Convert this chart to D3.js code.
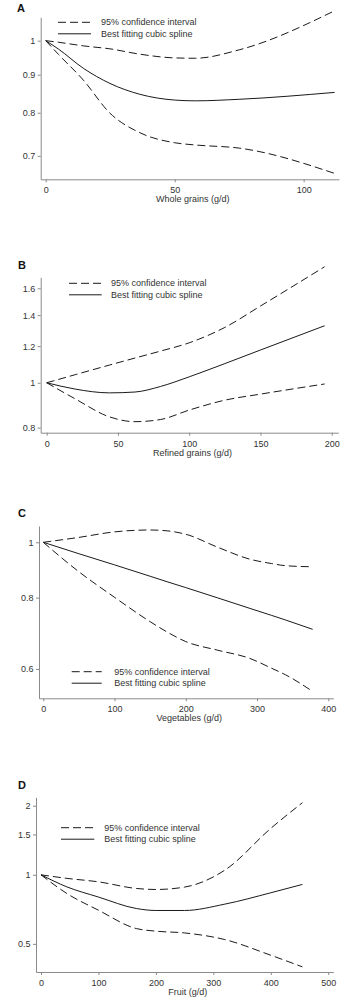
<!DOCTYPE html>
<html>
<head>
<meta charset="utf-8">
<script src="https://cdn.jsdelivr.net/npm/d3@7"></script>
<style>
  html, body { margin: 0; padding: 0; background: #fff; }
  svg { display: block; }
  text { font-family: "Liberation Sans", Arial, sans-serif; }
</style>
</head>
<body>
<svg id="chart" width="352" height="1000"></svg>
<script>
// ---------- DATA ----------
const legendLabels = ["95% confidence interval", "Best fitting cubic spline"];

// Panel A: Whole grains
const aLetter = "A";
const aTitle = "Whole grains (g/d)";
const aX      = [0, 5, 14.6, 24.9, 36.5, 50, 58, 75, 112];
const aSpline = [1, 0.974, 0.918, 0.876, 0.847, 0.832, 0.830, 0.834, 0.852];
const aUpper  = [1, 0.995, 0.984, 0.975, 0.959, 0.948, 0.947, 0.972, 1.097];
const aLower  = [1, 0.958, 0.885, 0.799, 0.752, 0.729, 0.724, 0.717, 0.663];
const aXTicks = [0, 50, 100];
const aYTicks = [0.7, 0.8, 0.9, 1];

// Panel B: Refined grains
const bLetter = "B";
const bTitle = "Refined grains (g/d)";
const bX      = [0, 20, 44, 62, 80, 100, 125, 150, 195];
const bSpline = [1, 0.969, 0.951, 0.955, 0.982, 1.03, 1.10, 1.177, 1.328];
const bUpper  = [1, 1.041, 1.092, 1.131, 1.171, 1.22, 1.317, 1.465, 1.781];
const bLower  = [1, 0.923, 0.844, 0.824, 0.833, 0.873, 0.917, 0.945, 0.994];
const bXTicks = [0, 50, 100, 150, 200];
const bYTicks = [0.8, 1, 1.2, 1.4, 1.6];

// Panel C: Vegetables
const cLetter = "C";
const cTitle = "Vegetables (g/d)";
const cX      = [0, 50, 100, 150, 175, 200, 245, 290, 320, 340, 378];
const cSpline = [1, 0.955, 0.913, 0.872, 0.852, 0.833, 0.799, 0.766, 0.745, 0.731, 0.704];
const cUpper  = [1, 1.02, 1.043, 1.051, 1.047, 1.033, 0.98, 0.934, 0.918, 0.91, 0.906];
const cLower  = [1, 0.888, 0.801, 0.726, 0.695, 0.67, 0.647, 0.626, 0.602, 0.586, 0.548];
const cXTicks = [0, 100, 200, 300, 400];
const cYTicks = [0.6, 0.8, 1];

// Panel D: Fruit
const dLetter = "D";
const dTitle = "Fruit (g/d)";
const dX      = [0, 45, 100, 166, 200, 250, 320, 400, 455];
const dSpline = [1, 0.886, 0.80, 0.713, 0.699, 0.699, 0.745, 0.835, 0.908];
const dUpper  = [1, 0.965, 0.932, 0.872, 0.863, 0.884, 1.048, 1.594, 2.062];
const dLower  = [1, 0.829, 0.701, 0.583, 0.568, 0.558, 0.522, 0.446, 0.397];
const dXTicks = [0, 100, 200, 300, 400, 500];
const dYTicks = [0.5, 1, 1.5, 2];

// ---------- LAYOUT (pixel geometry, not data) ----------
const panels = [
  { letter: aLetter, title: aTitle, x: aX, spline: aSpline, upper: aUpper, lower: aLower,
    xTicks: aXTicks, yTicks: aYTicks,
    xDom: [-1.94, 113.7], yDom: [0.651, 1.075],
    left: 40.7, right: 339, top: 17.3, bottom: 179.3,
    letterPos: [17, 12.3], legend: { x0: 58, x1: 91, tx: 101, y: 22.3 } },
  { letter: bLetter, title: bTitle, x: bX, spline: bSpline, upper: bUpper, lower: bLower,
    xTicks: bXTicks, yTicks: bYTicks,
    xDom: [-4.2, 204.6], yDom: [0.78, 1.69],
    left: 40.7, right: 338.3, top: 277.3, bottom: 432.7,
    letterPos: [18, 269.3], legend: { x0: 69, x1: 101.7, tx: 111, y: 283.3 } },
  { letter: cLetter, title: cTitle, x: cX, spline: cSpline, upper: cUpper, lower: cLower,
    xTicks: cXTicks, yTicks: cYTicks,
    xDom: [-6, 407], yDom: [0.533, 1.068],
    left: 39, right: 333.3, top: 526, bottom: 698.3,
    letterPos: [18, 516.7], legend: { x0: 71.7, x1: 101.7, tx: 114.3, y: 671.7 } },
  { letter: dLetter, title: dTitle, x: dX, spline: dSpline, upper: dUpper, lower: dLower,
    xTicks: dXTicks, yTicks: dYTicks,
    xDom: [-8.7, 508.8], yDom: [0.377, 2.177],
    left: 36, right: 333.3, top: 797.3, bottom: 972,
    letterPos: [18, 789], legend: { x0: 61, x1: 94.3, tx: 104.3, y: 827.7 } }
];

const svg = d3.select("#chart");
const axisColor = "#8a8a8a";
const textColor = "#333";
const lineColor = "#1a1a1a";
const dash = "8,4";

panels.forEach(p => {
  const g = svg.append("g");
  const xs = d3.scaleLinear().domain(p.xDom).range([p.left, p.right]);
  const ys = d3.scaleLog().domain(p.yDom).range([p.bottom, p.top]);

  const xAxis = g.append("g")
    .attr("transform", `translate(0,${p.bottom})`)
    .call(d3.axisBottom(xs).tickValues(p.xTicks).tickSize(3).tickSizeOuter(0).tickPadding(4.5)
      .tickFormat(d3.format("d")));
  const yAxis = g.append("g")
    .attr("transform", `translate(${p.left},0)`)
    .call(d3.axisLeft(ys).tickValues(p.yTicks).tickSize(3).tickSizeOuter(0).tickPadding(2.5)
      .tickFormat(d => String(d)));

  [xAxis, yAxis].forEach(ax => {
    ax.select(".domain").attr("stroke", axisColor).attr("stroke-width", 1);
    ax.selectAll(".tick line").attr("stroke", axisColor);
    ax.selectAll(".tick text").attr("fill", textColor)
      .attr("font-size", 9).attr("font-family", '"Liberation Sans", Arial, sans-serif');
  });

  g.append("text")
    .attr("x", (p.left + p.right) / 2 + 3)
    .attr("y", p.bottom + 23)
    .attr("text-anchor", "middle")
    .attr("font-size", 9)
    .attr("fill", textColor)
    .text(p.title);

  g.append("text")
    .attr("x", p.letterPos[0])
    .attr("y", p.letterPos[1])
    .attr("font-size", 11)
    .attr("font-weight", "bold")
    .attr("fill", "#111")
    .text(p.letter);

  const line = d3.line()
    .x(d => xs(d[0]))
    .y(d => ys(d[1]))
    .curve(d3.curveMonotoneX);

  const series = [
    { vals: p.upper, dashed: true },
    { vals: p.lower, dashed: true },
    { vals: p.spline, dashed: false }
  ];
  series.forEach(s => {
    g.append("path")
      .datum(p.x.map((xv, i) => [xv, s.vals[i]]))
      .attr("d", line)
      .attr("fill", "none")
      .attr("stroke", lineColor)
      .attr("stroke-width", 1)
      .attr("stroke-dasharray", s.dashed ? dash : null);
  });

  const L = p.legend;
  [0, 1].forEach(i => {
    const y = L.y + i * 11.5;
    g.append("line")
      .attr("x1", L.x0).attr("x2", L.x1)
      .attr("y1", y).attr("y2", y)
      .attr("stroke", lineColor)
      .attr("stroke-width", 1)
      .attr("stroke-dasharray", i === 0 ? dash : null);
    g.append("text")
      .attr("x", L.tx)
      .attr("y", y)
      .attr("dy", "0.35em")
      .attr("font-size", 9)
      .attr("fill", textColor)
      .text(legendLabels[i]);
  });
});
</script>
</body>
</html>
